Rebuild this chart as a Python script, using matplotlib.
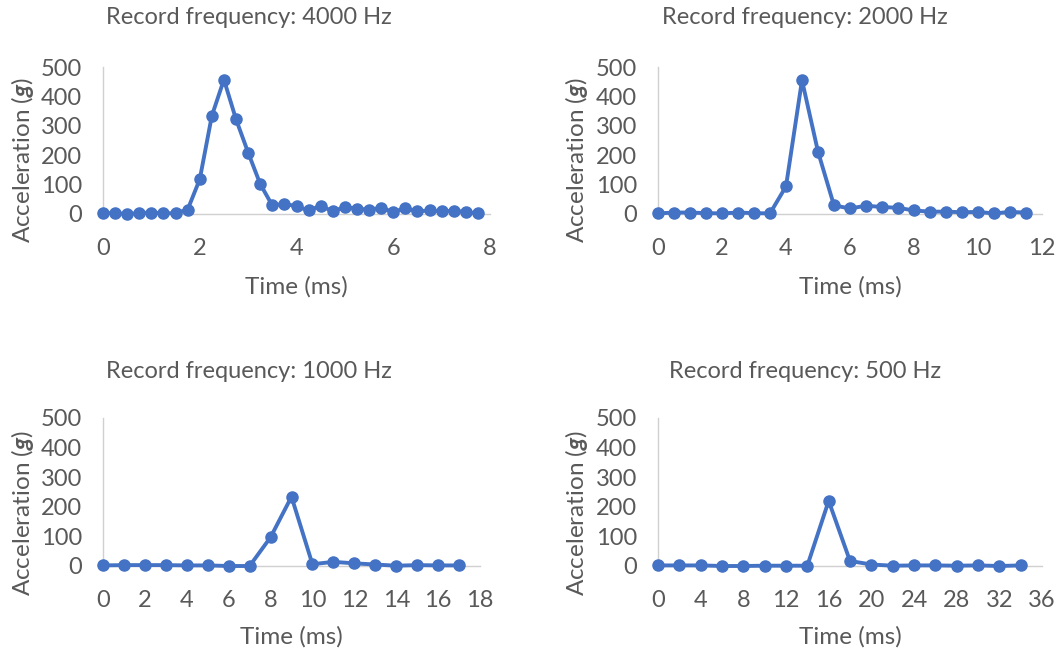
import matplotlib.pyplot as plt

plt.rcParams['font.family'] = ['Lato', 'DejaVu Sans']
plt.rcParams['mathtext.fontset'] = 'custom'
plt.rcParams['mathtext.bfit'] = 'Lato:italic:bold'
plt.rcParams['mathtext.rm'] = 'Lato'

# datos
t_4000 = [0, 0.25, 0.5, 0.75, 1, 1.25, 1.5, 1.75, 2, 2.25, 2.5, 2.75, 3, 3.25, 3.5, 3.75,
          4, 4.25, 4.5, 4.75, 5, 5.25, 5.5, 5.75, 6, 6.25, 6.5, 6.75, 7, 7.25, 7.5, 7.75]
a_4000 = [3, 3, 0, 3, 5, 2, 3, 15, 118, 334, 457, 322, 209, 102, 29, 35,
          26, 12, 28, 9, 24, 18, 15, 21, 7, 20, 9, 12, 9, 11, 7, 2]

t_2000 = [0, 0.5, 1, 1.5, 2, 2.5, 3, 3.5, 4, 4.5, 5, 5.5, 6, 6.5, 7, 7.5,
          8, 8.5, 9, 9.5, 10, 10.5, 11, 11.5]
a_2000 = [2, 5, 5, 3, 2, 5, 3, 2, 94, 455, 212, 29, 19, 28, 24, 21,
          12, 8, 8, 6, 7, 2, 7, 5]

t_1000 = list(range(0, 18))
a_1000 = [2, 3, 3, 3, 2, 2, 0, 0, 97, 234, 6, 14, 9, 5, 1, 3, 2, 2]

t_500 = list(range(0, 36, 2))
a_500 = [2, 2, 2, 0, 0, 1, 1, 1, 220, 17, 5, 1, 2, 2, 1, 2, 0, 2]

titulos = ['Record frequency: 4000 Hz', 'Record frequency: 2000 Hz',
           'Record frequency: 1000 Hz', 'Record frequency: 500 Hz']
x_max = [8, 12, 18, 36]
x_paso = [2, 2, 2, 4]
series = [(t_4000, a_4000), (t_2000, a_2000), (t_1000, a_1000), (t_500, a_500)]

W, H = 1057, 652
fig = plt.figure(figsize=(W / 100, H / 100), dpi=100)

# cajas de los ejes en píxeles (izq, der, arriba, abajo)
cajas = [(103, 490, 67, 214), (658, 1042, 67, 214),
         (103, 480, 418, 566), (658, 1042, 418, 566)]
pos_titulo = [(249, 18), (805, 18), (249, 372), (805, 372)]
pos_ylabel = [(22, 160), (577, 160), (22, 513), (577, 513)]
pos_xlabel_y = [287, 287, 637, 637]

gris = '#595959'
azul = '#4472C4'

for i in range(4):
    izq, der, arr, aba = cajas[i]
    ax = fig.add_axes([izq / W, 1 - aba / H, (der - izq) / W, (aba - arr) / H])
    t, a = series[i]
    ax.plot(t, a, color=azul, lw=2.8, marker='o', ms=8, clip_on=False, zorder=3)
    ax.set_xlim(0, x_max[i])
    ax.set_ylim(0, 500)
    ax.set_xticks(range(0, x_max[i] + 1, x_paso[i]))
    ax.set_yticks(range(0, 501, 100))
    for s in ['top', 'right']:
        ax.spines[s].set_visible(False)
    for s in ['left', 'bottom']:
        ax.spines[s].set_color('#D0D0D0')
        ax.spines[s].set_linewidth(1.0)
    ax.tick_params(length=0, labelsize=17, colors=gris)
    ax.tick_params(axis='y', pad=15)
    ax.tick_params(axis='x', pad=17)
    fig.text((izq + der) / 2 / W, 1 - pos_xlabel_y[i] / H, 'Time (ms)',
             ha='center', va='center', fontsize=17.5, color=gris)
    fig.text(pos_ylabel[i][0] / W, 1 - pos_ylabel[i][1] / H, r'Acceleration ($\mathbfit{g}$)',
             ha='center', va='center', rotation=90, fontsize=17.5, color=gris)
    fig.text(pos_titulo[i][0] / W, 1 - pos_titulo[i][1] / H, titulos[i],
             ha='center', va='center', fontsize=17, color=gris)

plt.savefig('out.png', dpi=100)
